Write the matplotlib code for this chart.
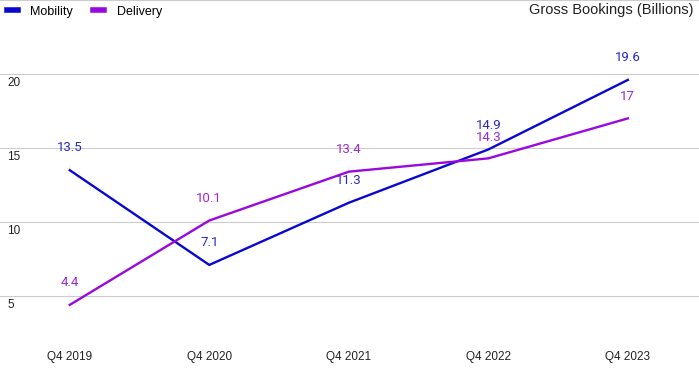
import matplotlib.pyplot as plt

quarters = ['Q4 2019', 'Q4 2020', 'Q4 2021', 'Q4 2022', 'Q4 2023']
mobility = [13.5, 7.1, 11.3, 14.9, 19.6]
delivery = [4.4, 10.1, 13.4, 14.3, 17.0]
mobility_labels = ['13.5', '7.1', '11.3', '14.9', '19.6']
delivery_labels = ['4.4', '10.1', '13.4', '14.3', '17']
# label lift above the point, in points
mobility_lift = [16, 16, 16, 17.5, 16]
delivery_lift = [16, 16, 16, 15, 16]

blue = '#0808d0'
purple = '#9a08e0'

plt.rcParams['font.family'] = ['Liberation Sans', 'DejaVu Sans']

fig = plt.figure(figsize=(6.99, 3.71), dpi=100)
ax = fig.add_axes([0, 1 - 333 / 371, 1, 333 / 371])

x = range(len(quarters))
ax.plot(x, mobility, color=blue, lw=1.7, label='Mobility', zorder=4)
ax.plot(x, delivery, color=purple, lw=1.7, label='Delivery', zorder=4)

# faint leader lines and value labels above each point
for vals, labels, lift, tc in [(mobility, mobility_labels, mobility_lift, '#2828c8'),
                               (delivery, delivery_labels, delivery_lift, '#9a28dc')]:
    for i in x:
        ax.annotate(labels[i], (i, vals[i]), xytext=(0, lift[i]),
                    textcoords='offset points', ha='center', va='center',
                    color=tc, fontsize=9.5, family='Roboto', zorder=2,
                    arrowprops=dict(arrowstyle='-', color='#eeeeee', lw=0.8,
                                    shrinkA=6, shrinkB=0))

ax.set_xlim(-0.5, 4.51)
ax.set_ylim(2.5, 25)
ax.set_xticks([])
ax.set_yticks([])
for v in [5, 10, 15, 20, 25]:
    ax.axhline(v, color='#cccccc', lw=0.8, zorder=0)
    if v < 25:
        ax.text(0.01, v - 0.6, str(v), transform=ax.get_yaxis_transform(),
                ha='left', va='center', fontsize=8.5, color='#222222')
for i, q in enumerate(quarters):
    fig.text((i + 0.5) / 5.01, 1 - 357 / 371, q, ha='center', va='center',
             fontsize=8.5, color='#222222')

for s in ax.spines.values():
    s.set_visible(False)

leg = ax.legend(loc='upper left', bbox_to_anchor=(0.004, 0.995),
                bbox_transform=fig.transFigure, ncol=2, frameon=False,
                fontsize=9, handlelength=0.9, borderaxespad=0.1,
                columnspacing=1.6, handletextpad=1.0, borderpad=0.2)
for h in leg.get_lines():
    h.set_linewidth(4)

fig.text(0.992, 1 - 10 / 371, 'Gross Bookings (Billions)', ha='right', va='center',
         fontsize=10.5, color='#222222')

fig.savefig('out.png', dpi=100)
